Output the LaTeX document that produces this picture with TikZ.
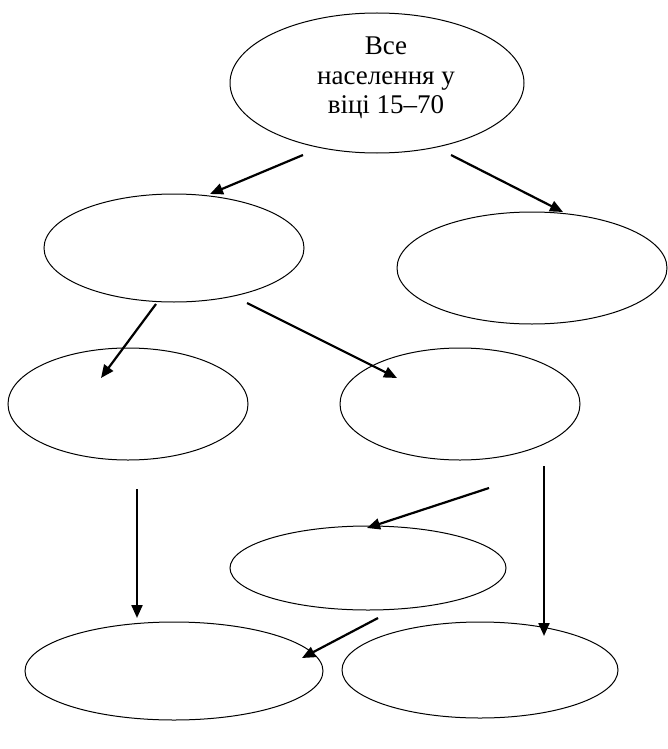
\documentclass[tikz,border=0pt]{standalone}
\usepackage{fontspec}
\setmainfont{Liberation Serif}
\usetikzlibrary{shapes.geometric,arrows.meta}
\begin{document}
\begin{tikzpicture}[x=1pt,y=-1pt,
  ell/.style={draw,line width=1pt},
  arr/.style={line width=2.2pt,-{Triangle[length=13pt,width=11pt]}}]
\useasboundingbox (0,0) rectangle (668,749);
\draw[ell] (377,83) ellipse [x radius=147,y radius=70];
\node[align=center,font=\fontsize{27}{29.5}\selectfont,inner sep=0,anchor=north] (e0) at (386,37) {Все\\населення у\\віці 15–70};
\draw[ell] (174,248) ellipse [x radius=130,y radius=54];
\draw[ell] (532,268) ellipse [x radius=135,y radius=56];
\draw[ell] (128,404) ellipse [x radius=120,y radius=56];
\draw[ell] (460,404) ellipse [x radius=120,y radius=56];
\draw[ell] (368,568) ellipse [x radius=138,y radius=42];
\draw[ell] (174,671) ellipse [x radius=149,y radius=49];
\draw[ell] (480,670) ellipse [x radius=138,y radius=48];
\coordinate (a1s) at (303,155); \coordinate (a1e) at (210,194);
\coordinate (a2s) at (451,155); \coordinate (a2e) at (563,212);
\coordinate (a3s) at (156,304); \coordinate (a3e) at (101,378);
\coordinate (a4s) at (247,303); \coordinate (a4e) at (397,378);
\coordinate (a5s) at (137,489); \coordinate (a5e) at (137,618);
\coordinate (a6s) at (489,488); \coordinate (a6e) at (367,528);
\coordinate (a7s) at (544,466); \coordinate (a7e) at (544,636);
\coordinate (a8s) at (378,618); \coordinate (a8e) at (302,658);
\foreach \i in {1,...,8}{\draw[arr] (a\i s) -- (a\i e);}
\end{tikzpicture}
\end{document}
